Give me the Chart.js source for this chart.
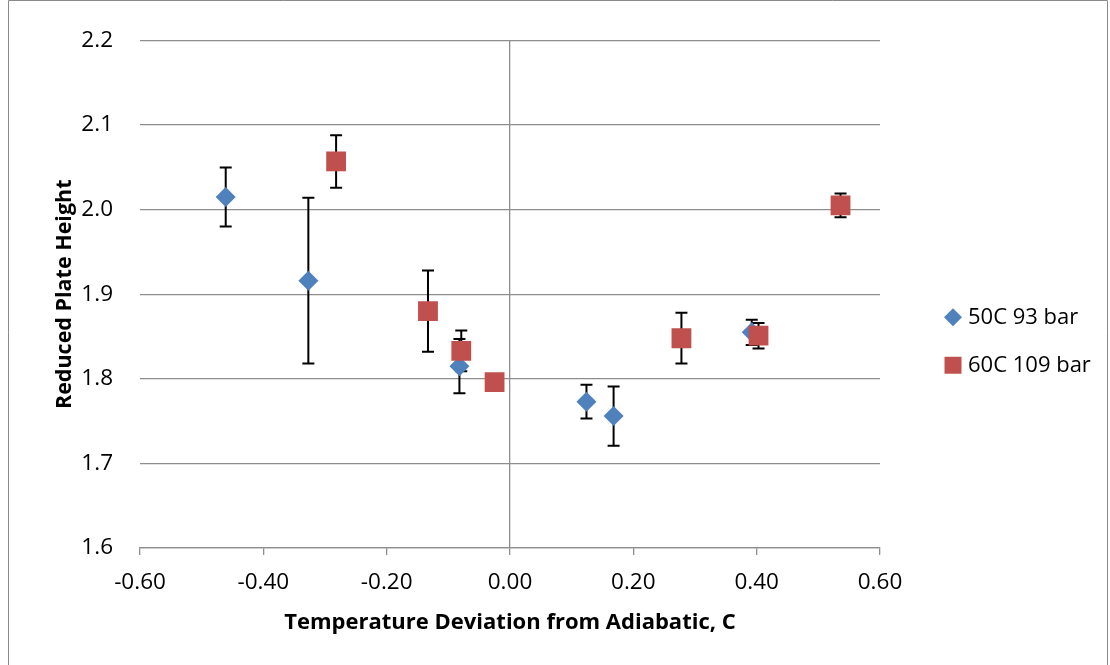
<!DOCTYPE html>
<html>
<head>
<meta charset="utf-8">
<title>Reduced Plate Height</title>
<script src="https://cdn.jsdelivr.net/npm/chart.js@4.4.1/dist/chart.umd.min.js"></script>
<style>
    body { margin: 0; background: #fff; }
    #wrap { width: 1110px; height: 665px; position: relative; }
</style>
</head>
<body>
<div id="wrap"><canvas id="plateheightchart"></canvas></div>
<script>
// series names
const seriesNames = ['50C 93 bar', '60C 109 bar'];

// 50C 93 bar
const dev50 = [-0.461, -0.327, -0.082, 0.124, 0.168, 0.392];
const h50 = [2.015, 1.916, 1.815, 1.773, 1.756, 1.855];
const err50 = [0.035, 0.098, 0.032, 0.020, 0.035, 0.015];

// 60C 109 bar
const dev60 = [-0.282, -0.133, -0.079, -0.025, 0.278, 0.403, 0.536];
const h60 = [2.057, 1.880, 1.833, 1.796, 1.848, 1.851, 2.005];
const err60 = [0.031, 0.048, 0.024, 0.008, 0.030, 0.015, 0.014];

// axis ticks
const xTicks = [-0.60, -0.40, -0.20, 0.00, 0.20, 0.40, 0.60];
const yTicks = [1.6, 1.7, 1.8, 1.9, 2.0, 2.1, 2.2];

const blue = '#4F81BD';
const red = '#C0504D';
const gridGray = '#8e8e8e';
const fontName = '"Open Sans", "Noto Sans", sans-serif';

function toPoints(xs, ys) {
    let pts = [];
    for (let i = 0; i < xs.length; i++) {
        pts.push({ x: xs[i], y: ys[i] });
    }
    return pts;
}

// white background + outer frame
const framePlugin = {
    id: 'frame',
    beforeDraw(chart) {
        const ctx = chart.ctx;
        ctx.save();
        ctx.fillStyle = '#fff';
        ctx.fillRect(0, 0, chart.width, chart.height);
        ctx.strokeStyle = '#8a8a8a';
        ctx.lineWidth = 1;
        ctx.beginPath();
        ctx.moveTo(8.5, chart.height);
        ctx.lineTo(8.5, 0.5);
        ctx.lineTo(chart.width - 2.5, 0.5);
        ctx.lineTo(chart.width - 2.5, chart.height);
        ctx.stroke();
        ctx.restore();
    }
};

// vertical error bars, drawn under the markers
const errorBarPlugin = {
    id: 'errorBars',
    beforeDatasetsDraw(chart) {
        const ctx = chart.ctx;
        const yScale = chart.scales.y;
        ctx.save();
        ctx.strokeStyle = '#000';
        ctx.lineWidth = 2;
        chart.data.datasets.forEach((ds, di) => {
            const meta = chart.getDatasetMeta(di);
            meta.data.forEach((pt, i) => {
                const v = ds.data[i].y;
                const e = ds.errors[i];
                const top = yScale.getPixelForValue(v + e);
                const bot = yScale.getPixelForValue(v - e);
                ctx.beginPath();
                ctx.moveTo(pt.x, top);
                ctx.lineTo(pt.x, bot);
                ctx.moveTo(pt.x - 6, top);
                ctx.lineTo(pt.x + 6, top);
                ctx.moveTo(pt.x - 6, bot);
                ctx.lineTo(pt.x + 6, bot);
                ctx.stroke();
            });
        });
        ctx.restore();
    }
};

// legend to the right of the plot
const legendPlugin = {
    id: 'sideLegend',
    afterDraw(chart) {
        const ctx = chart.ctx;
        const left = chart.chartArea.right + 73;
        const mid = (chart.chartArea.top + chart.chartArea.bottom) / 2 + 47;
        ctx.save();
        chart.data.datasets.forEach((ds, i) => {
            const y = mid + (i - 0.5) * 48;
            ctx.fillStyle = ds.backgroundColor;
            Chart.helpers.drawPoint(ctx, {
                pointStyle: ds.pointStyle,
                radius: ds.pointStyle === 'rect' ? 12 : 9,
                rotation: 0,
                borderWidth: 0
            }, left, y);
            ctx.fillStyle = '#000';
            ctx.font = '22px ' + fontName;
            ctx.textBaseline = 'middle';
            ctx.textAlign = 'left';
            ctx.fillText(ds.label, left + 15, y);
        });
        ctx.restore();
    }
};

let ctx = document.getElementById('plateheightchart');

new Chart(ctx, {
    type: 'scatter',
    data: {
        datasets: [
            {
                label: seriesNames[0],
                data: toPoints(dev50, h50),
                errors: err50,
                pointStyle: 'rectRot',
                pointRadius: 10,
                backgroundColor: blue,
                borderColor: blue,
                borderWidth: 0,
                order: 1,
            },
            {
                label: seriesNames[1],
                data: toPoints(dev60, h60),
                errors: err60,
                pointStyle: 'rect',
                pointRadius: 14,
                backgroundColor: red,
                borderColor: red,
                borderWidth: 0,
                order: 0,
            }
        ]
    },
    options: {
        responsive: true,
        maintainAspectRatio: false,
        animation: false,
        layout: {
            padding: { top: 40, left: 0, right: 230, bottom: 0 }
        },
        plugins: {
            legend: { display: false },
            tooltip: { enabled: false },
        },
        scales: {
            x: {
                type: 'linear',
                min: xTicks[0],
                max: xTicks[xTicks.length - 1],
                afterBuildTicks: (scale) => {
                    scale.ticks = xTicks.map(v => ({ value: v }));
                },
                afterFit: (scale) => { scale.height = 117; },
                ticks: {
                    color: '#000',
                    padding: 14,
                    maxRotation: 0,
                    autoSkip: false,
                    font: { family: fontName, size: 22.5 },
                    callback: (v) => Number(v).toFixed(2),
                },
                grid: {
                    // only the zero line shows inside the plot
                    color: (c) => (c.tick && Math.abs(c.tick.value) < 1e-9) ? gridGray : 'rgba(0,0,0,0)',
                    tickColor: gridGray,
                    tickLength: 7,
                    lineWidth: 1.3,
                },
                border: { display: true, color: gridGray, width: 1.3 },
                title: {
                    display: true,
                    text: 'Temperature Deviation from Adiabatic, C',
                    color: '#000',
                    font: { family: fontName, size: 22, weight: 'bold' },
                    padding: { top: 0, bottom: 29 },
                },
            },
            y: {
                type: 'linear',
                min: yTicks[0],
                max: yTicks[yTicks.length - 1],
                afterBuildTicks: (scale) => {
                    scale.ticks = yTicks.map(v => ({ value: v }));
                },
                afterFit: (scale) => { scale.width = 140; },
                ticks: {
                    color: '#000',
                    padding: 27,
                    autoSkip: false,
                    font: { family: fontName, size: 22.5 },
                    callback: (v) => Number(v).toFixed(1),
                },
                grid: {
                    color: gridGray,
                    lineWidth: 1.3,
                    drawTicks: false,
                },
                border: { display: false },
                title: {
                    display: true,
                    text: 'Reduced Plate Height',
                    color: '#000',
                    font: { family: fontName, size: 21.5, weight: 'bold' },
                    padding: { top: 52, bottom: 0 },
                },
            },
        },
    },
    plugins: [framePlugin, errorBarPlugin, legendPlugin],
});
</script>
</body>
</html>
